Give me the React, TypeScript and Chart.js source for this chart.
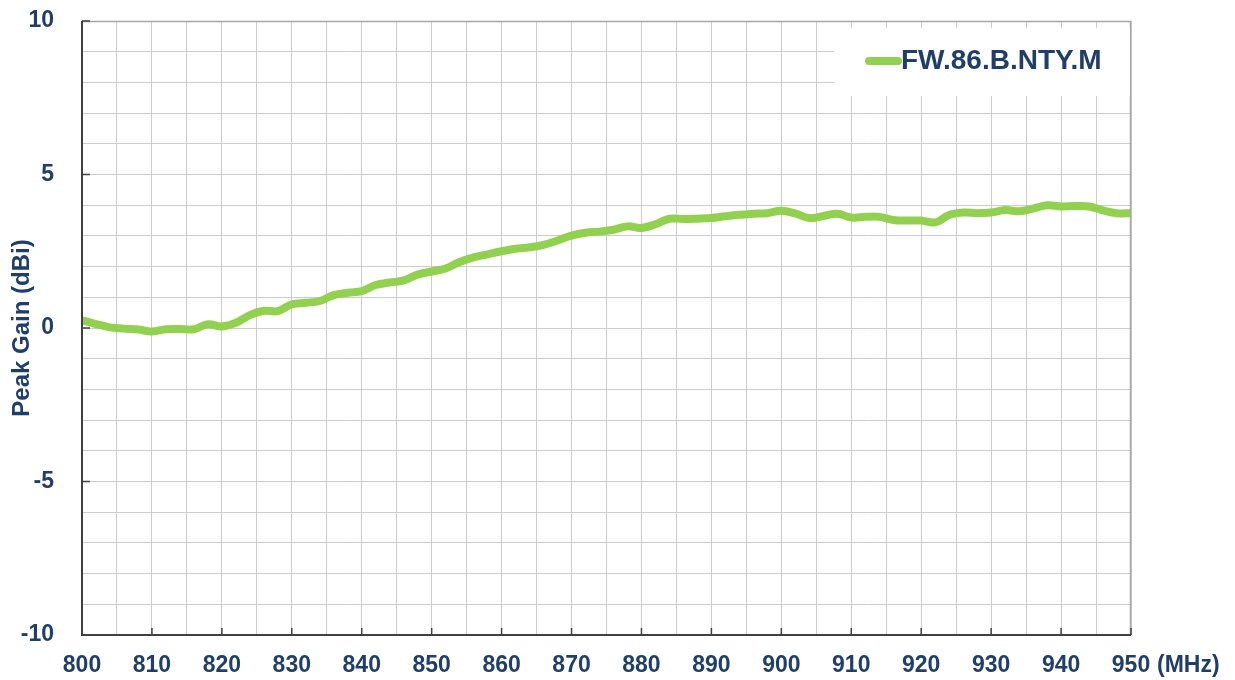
import React, { useEffect, useRef } from "react";
import { Chart, registerables } from "chart.js";

Chart.register(...registerables);

const freqs: number[] = [
  800, 802, 804, 806, 808, 810, 812, 814, 816, 818, 820, 822, 824, 826, 828, 830,
  832, 834, 836, 838, 840, 842, 844, 846, 848, 850, 852, 854, 856, 858, 860, 862,
  864, 866, 868, 870, 872, 874, 876, 878, 880, 882, 884, 886, 888, 890, 892, 894,
  896, 898, 900, 902, 904, 906, 908, 910, 912, 914, 916, 918, 920, 922, 924, 926,
  928, 930, 932, 934, 936, 938, 940, 942, 944, 946, 948, 950,
];

const gain: number[] = [
  0.25, 0.13, 0.02, -0.02, -0.05, -0.11, -0.04, -0.03, -0.04, 0.12, 0.05, 0.17, 0.42, 0.56, 0.55, 0.77,
  0.82, 0.88, 1.07, 1.15, 1.2, 1.4, 1.48, 1.55, 1.74, 1.84, 1.94, 2.15, 2.3, 2.4, 2.5, 2.58,
  2.63, 2.71, 2.85, 3.01, 3.1, 3.14, 3.2, 3.31, 3.26, 3.38, 3.56, 3.55, 3.56, 3.58, 3.64, 3.69,
  3.72, 3.74, 3.82, 3.73, 3.58, 3.65, 3.72, 3.6, 3.62, 3.62, 3.52, 3.5, 3.5, 3.44, 3.68, 3.76,
  3.74, 3.76, 3.84, 3.8, 3.89, 4.0, 3.96, 3.97, 3.96, 3.83, 3.74, 3.74,
];

const seriesName = "FW.86.B.NTY.M";
const xUnit = "(MHz)";
const yTitle = "Peak Gain (dBi)";
const xMin = 800, xMax = 950, xGridStep = 5, xLabelStep = 10;
const yMin = -10, yMax = 10, yGridStep = 1, yLabelStep = 5;

const TEXT = "#1F3F6A";
const LINE = "#92D050";
const FONT = "'Liberation Sans', Arial, sans-serif";

const framePlugin = {
  id: "frame",
  afterDatasetsDraw(chart: any) {
    const { ctx, chartArea: a, scales } = chart;
    const xs = scales.x, ys = scales.y;
    ctx.save();
    ctx.strokeStyle = "#a6a6a6";
    ctx.lineWidth = 1.5;
    ctx.beginPath();
    ctx.moveTo(a.left, a.top + 0.5);
    ctx.lineTo(a.right - 0.5, a.top + 0.5);
    ctx.lineTo(a.right - 0.5, a.bottom);
    ctx.stroke();
    ctx.strokeStyle = "#404040";
    ctx.lineWidth = 2;
    ctx.beginPath();
    ctx.moveTo(a.left, a.top);
    ctx.lineTo(a.left, a.bottom);
    ctx.lineTo(a.right, a.bottom);
    ctx.stroke();
    ctx.lineWidth = 1.5;
    for (let v = yMin; v <= yMax; v += yLabelStep) {
      const y = ys.getPixelForValue(v);
      ctx.beginPath();
      ctx.moveTo(a.left, y);
      ctx.lineTo(a.left + 8, y);
      ctx.stroke();
    }
    for (let v = xMin; v <= xMax; v += xLabelStep) {
      const x = xs.getPixelForValue(v);
      ctx.beginPath();
      ctx.moveTo(x, a.bottom);
      ctx.lineTo(x, a.bottom - 7);
      ctx.stroke();
    }
    const bx = a.right - 297, by = a.top + 7, bw = 296, bh = 68;
    ctx.fillStyle = "#ffffff";
    ctx.fillRect(bx, by, bw, bh);
    ctx.strokeStyle = LINE;
    ctx.lineWidth = 8;
    ctx.lineCap = "round";
    ctx.beginPath();
    ctx.moveTo(bx + 35, by + 33);
    ctx.lineTo(bx + 64, by + 33);
    ctx.stroke();
    ctx.fillStyle = TEXT;
    ctx.font = `bold 28px ${FONT}`;
    ctx.textAlign = "left";
    ctx.textBaseline = "middle";
    ctx.fillText(seriesName, bx + 67, by + 33);
    ctx.font = `bold 23px ${FONT}`;
    ctx.fillText(xUnit, a.right + 26, a.bottom + 31);
    ctx.restore();
  },
};

export default function App() {
  const ref = useRef<HTMLCanvasElement | null>(null);
  useEffect(() => {
    if (!ref.current) return;
    const chart = new Chart(ref.current, {
      type: "line",
      data: {
        datasets: [
          {
            label: seriesName,
            data: freqs.map((f, i) => ({ x: f, y: gain[i] })),
            borderColor: LINE,
            backgroundColor: LINE,
            borderWidth: 8,
            pointRadius: 0,
            tension: 0.4,
            borderCapStyle: "round",
            borderJoinStyle: "round",
            fill: false,
          },
        ],
      },
      options: {
        animation: false,
        responsive: true,
        maintainAspectRatio: false,
        layout: { padding: { left: 0, right: 104, top: 21, bottom: 0 } },
        plugins: { legend: { display: false }, tooltip: { enabled: false } },
        scales: {
          x: {
            type: "linear",
            min: xMin,
            max: xMax,
            afterFit: (s: any) => { s.height = 45; s.paddingLeft = 0; s.paddingRight = 0; },
            afterBuildTicks: (s: any) => {
              const t = [];
              for (let v = xMin; v <= xMax; v += xGridStep) t.push({ value: v });
              s.ticks = t;
            },
            grid: { color: "#cccccc", lineWidth: 1, drawTicks: false, tickLength: 0 },
            border: { display: false },
            ticks: {
              autoSkip: false,
              maxRotation: 0,
              padding: 17,
              color: TEXT,
              font: { family: FONT, size: 23, weight: "bold" },
              callback: (v: any) => (Number(v) % xLabelStep === 0 ? String(v) : ""),
            },
          },
          y: {
            min: yMin,
            max: yMax,
            afterFit: (s: any) => { s.width = 82; s.paddingTop = 0; s.paddingBottom = 0; },
            afterBuildTicks: (s: any) => {
              const t = [];
              for (let v = yMin; v <= yMax; v += yGridStep) t.push({ value: v });
              s.ticks = t;
            },
            grid: { color: "#cccccc", lineWidth: 1, drawTicks: false, tickLength: 0 },
            border: { display: false },
            title: {
              display: true,
              text: yTitle,
              color: TEXT,
              font: { family: FONT, size: 24, weight: "bold" },
              padding: { top: 8, bottom: 0 },
            },
            ticks: {
              autoSkip: false,
              padding: 28,
              color: TEXT,
              font: { family: FONT, size: 23, weight: "bold" },
              callback: (v: any) => (Number(v) % yLabelStep === 0 ? String(v) : ""),
            },
          },
        },
      },
      plugins: [framePlugin],
    } as any);
    return () => chart.destroy();
  }, []);
  return (
    <div style={{ position: "absolute", left: 0, top: 0, width: 1235, height: 680, background: "#fff" }}>
      <canvas ref={ref} />
    </div>
  );
}
